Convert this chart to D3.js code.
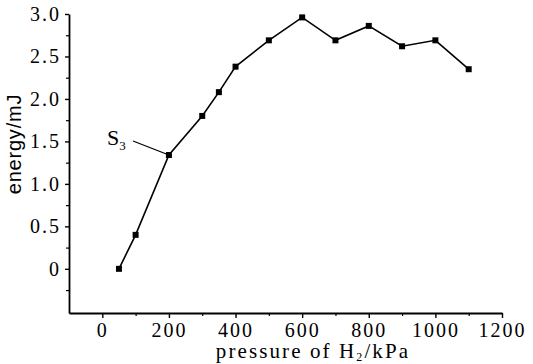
<!DOCTYPE html>
<html>
<head>
<meta charset="utf-8">
<script src="https://cdn.jsdelivr.net/npm/d3@7"></script>
<style>
  html, body { margin: 0; padding: 0; background: #fff; }
  svg { display: block; }
</style>
</head>
<body>
<script>
// data
const pressure = [50, 100, 200, 300, 350, 400, 500, 600, 700, 800, 900, 1000, 1100];
const energy = [0, 0.40, 1.34, 1.80, 2.08, 2.38, 2.69, 2.96, 2.69, 2.86, 2.62, 2.69, 2.35];
const xTicks = [0, 200, 400, 600, 800, 1000, 1200];
const yTicks = [0, 0.5, 1.0, 1.5, 2.0, 2.5, 3.0];

const width = 533;
const height = 364;
const serif = 'Liberation Serif, serif';

const x = d3.scaleLinear().domain([-100, 1200]).range([69, 502]);
const y = d3.scaleLinear().domain([-0.52, 3.0]).range([313, 14]);

const svg = d3.select('body').append('svg')
  .attr('width', width)
  .attr('height', height)
  .attr('viewBox', [0, 0, width, height]);

svg.append('rect').attr('width', width).attr('height', height).attr('fill', '#fff');

// minor ticks
svg.append('g')
  .attr('transform', `translate(0,${y.range()[0]})`)
  .call(d3.axisBottom(x).tickValues(d3.range(100, 1200, 200)).tickSize(3).tickFormat(''))
  .call((g) => g.select('.domain').remove())
  .call((g) => g.selectAll('line').attr('stroke-width', 1.2));

svg.append('g')
  .attr('transform', `translate(${x.range()[0]},0)`)
  .call(d3.axisLeft(y).tickValues([-0.25, 0.25, 0.75, 1.25, 1.75, 2.25, 2.75]).tickSize(3).tickFormat(''))
  .call((g) => g.select('.domain').remove())
  .call((g) => g.selectAll('line').attr('stroke-width', 1.2));

// x axis
const xAxis = svg.append('g')
  .attr('transform', `translate(0,${y.range()[0]})`)
  .call(d3.axisBottom(x).tickValues(xTicks).tickSize(5).tickSizeOuter(0).tickPadding(5)
    .tickFormat(d3.format('d')));
xAxis.attr('font-family', null).attr('font-size', null);
xAxis.select('.domain').attr('stroke-width', 1.8);
xAxis.selectAll('line').attr('stroke-width', 1.4);
xAxis.selectAll('text')
  .style('font-family', serif)
  .style('font-size', '20px')
  .attr('letter-spacing', 2)
  .attr('fill', '#000');

// y axis
const yAxis = svg.append('g')
  .attr('transform', `translate(${x.range()[0]},0)`)
  .call(d3.axisLeft(y).tickValues(yTicks).tickSize(4).tickSizeOuter(0).tickPadding(4)
    .tickFormat((d) => d === 0 ? '0' : d3.format('.1f')(d)));
yAxis.attr('font-family', null).attr('font-size', null);
yAxis.select('.domain').attr('stroke-width', 1.8);
yAxis.selectAll('line').attr('stroke-width', 1.4);
yAxis.selectAll('text')
  .style('font-family', serif)
  .style('font-size', '20px')
  .attr('letter-spacing', 2)
  .attr('fill', '#000');

// axis titles
svg.append('text')
  .attr('transform', 'translate(21,144) rotate(-90)')
  .attr('text-anchor', 'middle')
  .style('font-family', 'Liberation Sans, Arial, sans-serif')
  .style('font-size', '20px')
  .attr('letter-spacing', 0.8)
  .text('energy/mJ');

const xTitle = svg.append('text')
  .attr('x', 313)
  .attr('y', 358)
  .attr('text-anchor', 'middle')
  .style('font-family', serif)
  .style('font-size', '21px')
  .attr('letter-spacing', 2.1);
xTitle.append('tspan').text('pressure of H');
xTitle.append('tspan').style('font-size', '12px').attr('dy', 3).text('2');
xTitle.append('tspan').attr('dy', -3).text('/kPa');

// series
const line = d3.line().x((d) => x(d[0])).y((d) => y(d[1]));
const pts = pressure.map((p, i) => [p, energy[i]]);

svg.append('path')
  .datum(pts)
  .attr('d', line)
  .attr('fill', 'none')
  .attr('stroke', '#000')
  .attr('stroke-width', 1.6);

svg.append('g')
  .selectAll('rect')
  .data(pts)
  .join('rect')
  .attr('x', (d) => x(d[0]) - 3)
  .attr('y', (d) => y(d[1]) - 3)
  .attr('width', 6)
  .attr('height', 6)
  .attr('fill', '#000');

// S3 label with leader line
const s3 = pts[2];
svg.append('line')
  .attr('x1', 133)
  .attr('y1', 141)
  .attr('x2', x(s3[0]))
  .attr('y2', y(s3[1]))
  .attr('stroke', '#000')
  .attr('stroke-width', 1.3);

const sLabel = svg.append('text')
  .attr('x', 107)
  .attr('y', 145)
  .style('font-family', serif)
  .style('font-size', '22px');
sLabel.append('tspan').text('S');
sLabel.append('tspan').style('font-size', '13px').attr('dy', 5).text('3');
</script>
</body>
</html>
